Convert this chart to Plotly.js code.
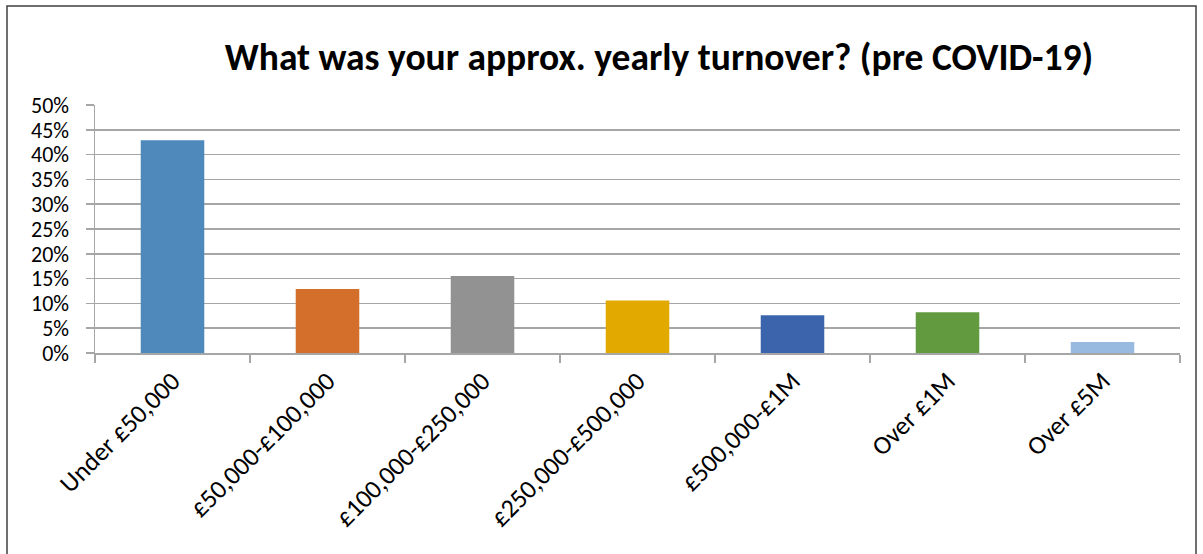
<!DOCTYPE html>
<html>
<head>
<meta charset="utf-8">
<script src="https://cdn.plot.ly/plotly-3.0.1.min.js"></script>
<style>
html,body{margin:0;padding:0;background:#fff;}
#chart{width:1203px;height:554px;}
</style>
</head>
<body>
<div id="chart"></div>
<script>
const categories = ["Under £50,000", "£50,000-£100,000", "£100,000-£250,000", "£250,000-£500,000", "£500,000-£1M", "Over £1M", "Over £5M"];
const values = [0.429, 0.129, 0.155, 0.106, 0.076, 0.082, 0.022];
const barColors = ["#4F89BB", "#D46F2B", "#929292", "#E2AA00", "#3B64AD", "#629A3F", "#98B9E0"];
const yTickVals = [0, 0.05, 0.10, 0.15, 0.20, 0.25, 0.30, 0.35, 0.40, 0.45, 0.50];
const yTickText = ["0%", "5%", "10%", "15%", "20%", "25%", "30%", "35%", "40%", "45%", "50%"];
const titleText = "What was your approx. yearly turnover? (pre COVID-19)";

const fontFam = "Carlito, Calibri, 'Liberation Sans Narrow', 'Liberation Sans', sans-serif";

const trace = {
  type: "bar",
  x: categories,
  y: values,
  marker: {color: barColors, line: {width: 0}},
  hoverinfo: "x+y"
};

const W = 1203, H = 554, L = 95, R = 23, T = 105, B = 201;
const pw = W - L - R, ph = H - T - B;
function px2x(p){ return (p - L) / pw; }
function py2y(p){ return (H - B - p) / ph; }

const layout = {
  width: W, height: H,
  margin: {l: L, r: R, t: T, b: B, pad: 0},
  paper_bgcolor: "#ffffff",
  plot_bgcolor: "#ffffff",
  showlegend: false,
  bargap: 0.59,
  title: {
    text: titleText,
    font: {family: fontFam, size: 37.5, color: "#000000", weight: "bold"},
    x: px2x(659), xref: "paper", xanchor: "center",
    y: 1 - 57 / H, yref: "container", yanchor: "middle"
  },
  xaxis: {
    type: "category",
    tickangle: -45,
    tickfont: {family: fontFam, size: 26, color: "#000000"},
    showgrid: false,
    showline: true, linecolor: "#a6a6a6", linewidth: 1.5,
    ticks: "outside", ticklen: 8, tickcolor: "#a6a6a6", tickwidth: 1.5,
    tickson: "boundaries",
    ticklabelstandoff: 1,
    zeroline: false,
    fixedrange: true
  },
  yaxis: {
    range: [0, 0.5],
    tickvals: yTickVals,
    ticktext: yTickText,
    tickfont: {family: fontFam, size: 22, color: "#000000"},
    showgrid: true, gridcolor: "#a6a6a6", gridwidth: 1.5,
    showline: true, linecolor: "#a6a6a6", linewidth: 1.5,
    ticks: "outside", ticklen: 8, tickcolor: "#a6a6a6", tickwidth: 1.5,
    ticklabelstandoff: 12,
    zeroline: false,
    fixedrange: true
  },
  shapes: [{
    type: "rect", xref: "paper", yref: "paper",
    x0: px2x(7), x1: px2x(1196), y0: py2y(600), y1: py2y(6),
    line: {color: "#404040", width: 1.5}, fillcolor: "rgba(0,0,0,0)", layer: "above"
  }]
};

Plotly.newPlot("chart", [trace], layout, {displayModeBar: false, staticPlot: true});
</script>
</body>
</html>
